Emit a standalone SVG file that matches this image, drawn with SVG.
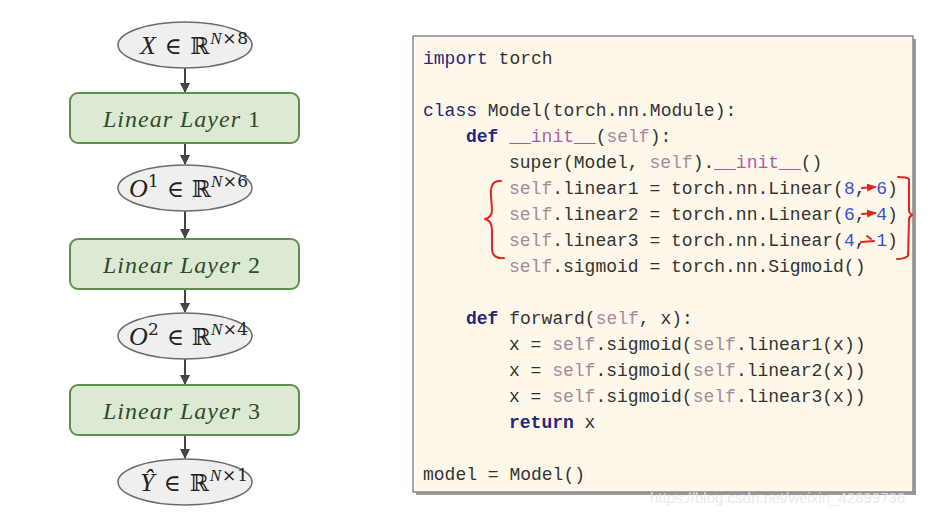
<svg xmlns="http://www.w3.org/2000/svg" width="934" height="518" viewBox="0 0 934 518">
<defs>
<style>
.ell{fill:#efefef;stroke:#6b6b6b;stroke-width:1.5}
.box{fill:#dcead4;stroke:#5f8f4e;stroke-width:2}
.math{font-family:"DejaVu Serif","Liberation Serif",serif;font-size:23px;fill:#222}
.mi{font-family:"Liberation Serif",serif;font-style:italic;font-size:26px}
.sp{font-size:17px}
.lbl{font-family:"Liberation Serif","DejaVu Serif",serif;font-style:italic;font-size:24px;fill:#2f4a2c}
.conn{stroke:#444;stroke-width:2;fill:none}
.code{font-family:"Liberation Mono",monospace;font-size:18px;fill:#333}
.kw{fill:#262680}
.kb{fill:#262680;font-weight:bold}
.sf{fill:#a48b9c}
.mg{fill:#b25aa8}
.nu{fill:#3b4fd0}
.red{stroke:#e0261e;stroke-width:2;fill:none;stroke-linecap:round;stroke-linejoin:round}
</style>
<marker id="ah" viewBox="0 0 10 10" refX="9" refY="5" markerWidth="5" markerHeight="5" orient="auto"><path d="M0,0 L10,5 L0,10 z" fill="#444"/></marker>
<marker id="rh" viewBox="0 0 10 10" refX="8" refY="5" markerWidth="5" markerHeight="5" orient="auto"><path d="M0,1 L10,5 L0,9 z" fill="#e0261e"/></marker>
</defs>
<rect width="934" height="518" fill="#ffffff"/>

<g id="connectors">
<line class="conn" x1="185" y1="68" x2="185" y2="92" marker-end="url(#ah)"/>
<line class="conn" x1="185" y1="143" x2="185" y2="164" marker-end="url(#ah)"/>
<line class="conn" x1="185" y1="211" x2="185" y2="238" marker-end="url(#ah)"/>
<line class="conn" x1="185" y1="289" x2="185" y2="312" marker-end="url(#ah)"/>
<line class="conn" x1="185" y1="359" x2="185" y2="384" marker-end="url(#ah)"/>
<line class="conn" x1="185" y1="435" x2="185" y2="458" marker-end="url(#ah)"/>
</g>

<g id="n_x">
<ellipse class="ell" cx="185" cy="45" rx="67" ry="23"/>
<text class="math" x="140" y="54" textLength="108" lengthAdjust="spacing"><tspan class="mi">X</tspan> ∈ ℝ<tspan class="mi sp" dy="-10">N</tspan><tspan class="sp">×8</tspan></text>
</g>
<g id="n_l1">
<rect class="box" x="70" y="93" width="229" height="50" rx="8"/>
<text class="lbl" x="103" y="127" textLength="157" lengthAdjust="spacing">Linear Layer <tspan style="font-style:normal">1</tspan></text>
</g>
<g id="n_o1">
<ellipse class="ell" cx="185" cy="188" rx="67" ry="23"/>
<text class="math" x="129" y="197" textLength="119" lengthAdjust="spacing"><tspan class="mi">O</tspan><tspan class="sp" dy="-10">1</tspan><tspan dy="10"> ∈ ℝ</tspan><tspan class="mi sp" dy="-10">N</tspan><tspan class="sp">×6</tspan></text>
</g>
<g id="n_l2">
<rect class="box" x="70" y="239" width="229" height="50" rx="8"/>
<text class="lbl" x="103" y="273" textLength="157" lengthAdjust="spacing">Linear Layer <tspan style="font-style:normal">2</tspan></text>
</g>
<g id="n_o2">
<ellipse class="ell" cx="185" cy="336" rx="67" ry="23"/>
<text class="math" x="129" y="345" textLength="119" lengthAdjust="spacing"><tspan class="mi">O</tspan><tspan class="sp" dy="-10">2</tspan><tspan dy="10"> ∈ ℝ</tspan><tspan class="mi sp" dy="-10">N</tspan><tspan class="sp">×4</tspan></text>
</g>
<g id="n_l3">
<rect class="box" x="70" y="385" width="229" height="50" rx="8"/>
<text class="lbl" x="103" y="419" textLength="157" lengthAdjust="spacing">Linear Layer <tspan style="font-style:normal">3</tspan></text>
</g>
<g id="n_y">
<ellipse class="ell" cx="185" cy="482" rx="67" ry="23"/>
<text class="math" x="140" y="491" textLength="108" lengthAdjust="spacing"><tspan class="mi">Ŷ</tspan> ∈ ℝ<tspan class="mi sp" dy="-10">N</tspan><tspan class="sp">×1</tspan></text>
</g>

<g id="code">
<rect x="416" y="39" width="500" height="456" fill="#9a9a9a"/>
<rect x="413" y="36" width="500" height="456" fill="#fdf8ea" stroke="#8a8a8a" stroke-width="1.5"/>
<g class="code" xml:space="preserve">
<text x="423" y="64"><tspan class="kw">import</tspan> torch</text>
<text x="423" y="116"><tspan class="kw">class</tspan> Model(torch.nn.Module):</text>
<text x="466" y="142"><tspan class="kb">def</tspan> <tspan class="mg">__init__</tspan>(<tspan class="sf">self</tspan>):</text>
<text x="509" y="168">super(Model, <tspan class="sf">self</tspan>).<tspan class="mg">__init__</tspan>()</text>
<text x="509" y="194"><tspan class="sf">self</tspan>.linear1 = torch.nn.Linear(<tspan class="nu">8</tspan>, <tspan class="nu">6</tspan>)</text>
<text x="509" y="220"><tspan class="sf">self</tspan>.linear2 = torch.nn.Linear(<tspan class="nu">6</tspan>, <tspan class="nu">4</tspan>)</text>
<text x="509" y="246"><tspan class="sf">self</tspan>.linear3 = torch.nn.Linear(<tspan class="nu">4</tspan>, <tspan class="nu">1</tspan>)</text>
<text x="509" y="272"><tspan class="sf">self</tspan>.sigmoid = torch.nn.Sigmoid()</text>
<text x="466" y="324"><tspan class="kb">def</tspan> forward(<tspan class="sf">self</tspan>, x):</text>
<text x="509" y="350">x = <tspan class="sf">self</tspan>.sigmoid(<tspan class="sf">self</tspan>.linear1(x))</text>
<text x="509" y="376">x = <tspan class="sf">self</tspan>.sigmoid(<tspan class="sf">self</tspan>.linear2(x))</text>
<text x="509" y="402">x = <tspan class="sf">self</tspan>.sigmoid(<tspan class="sf">self</tspan>.linear3(x))</text>
<text x="509" y="428"><tspan class="kb">return</tspan> x</text>
<text x="423" y="480">model = Model()</text>
</g>
</g>

<g id="annotations">
<path class="red" d="M501,181 C493,180 490,186 491,196 L492,210 C492,216 489,218 485,219 C489,220 492,224 492,230 L492,249 C492,255 496,259 504,258"/>
<path class="red" d="M898,177 C903,177 907,177 909,179 L909,211 C909,213 911,214 912,215 C910,216 909,217 909,220 L908,256 C905,258 901,259 897,259"/>
<line class="red" x1="862" y1="188" x2="875" y2="187" marker-end="url(#rh)"/>
<line class="red" x1="862" y1="214" x2="875" y2="213" marker-end="url(#rh)"/>
<path class="red" d="M861,242 L874,241 M867,236 L871,239"/>
</g>

<text x="650" y="503" font-family="Liberation Sans, sans-serif" font-size="15" fill="#e8e8e8" opacity="0.9">https://blog.csdn.net/weixin_42899736</text>
</svg>
